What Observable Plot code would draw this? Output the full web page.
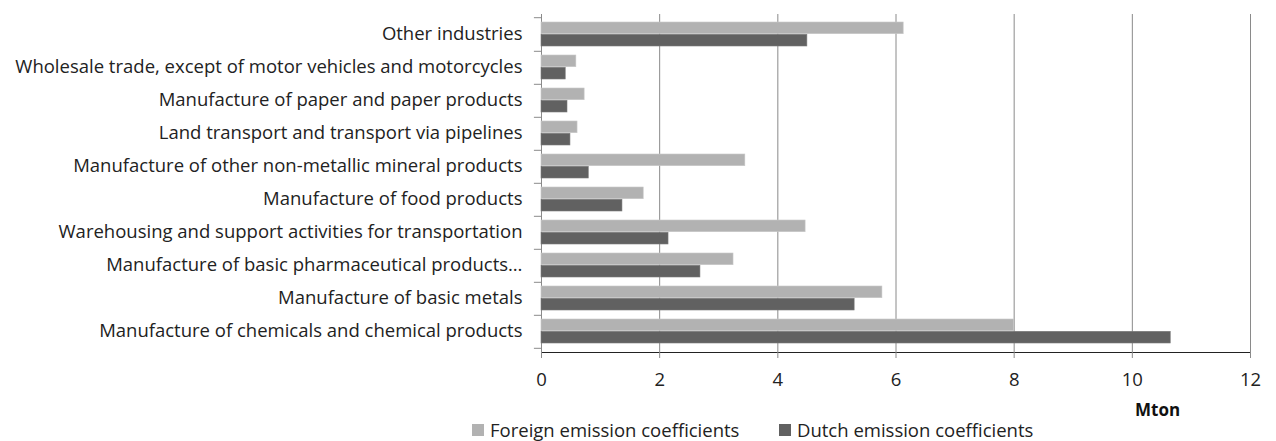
<!DOCTYPE html>
<html>
<head>
<meta charset="utf-8">
<script src="https://cdn.jsdelivr.net/npm/d3@7"></script>
<script src="https://cdn.jsdelivr.net/npm/@observablehq/plot@0.6"></script>
<style>
  body { margin: 0; background: #fff; font-family: "Open Sans", sans-serif; }
  #wrap { position: relative; width: 1276px; height: 441px; }
  #chart svg text { font-family: "Open Sans", sans-serif; font-size: 18.5px; fill: #222; }
  #legend { position: absolute; left: 0; top: 417px; width: 1276px; font-size: 18.5px; line-height: 26px; color: #222; }
  .item { position: absolute; top: 0; display: flex; align-items: center; white-space: nowrap; }
  .sw { width: 12px; height: 12px; margin-right: 6px; }
  #unit { position: absolute; left: 1135px; top: 398px; font-weight: bold; font-size: 17px; line-height: 24px; color: #111; }
</style>
</head>
<body>
<div id="wrap">
  <div id="chart"></div>
  <div id="unit">Mton</div>
  <div id="legend"></div>
</div>
<script>
const categories = [
  "Other industries",
  "Wholesale trade, except of motor vehicles and motorcycles",
  "Manufacture of paper and paper products",
  "Land transport and transport via pipelines",
  "Manufacture of other non-metallic mineral products",
  "Manufacture of food products",
  "Warehousing and support activities for transportation",
  "Manufacture of basic pharmaceutical products…",
  "Manufacture of basic metals",
  "Manufacture of chemicals and chemical products"
];
const foreign = [6.13, 0.59, 0.73, 0.61, 3.45, 1.73, 4.47, 3.25, 5.77, 8.0];
const dutch   = [4.50, 0.41, 0.44, 0.49, 0.80, 1.37, 2.15, 2.69, 5.30, 10.65];
const seriesNames = ["Foreign emission coefficients", "Dutch emission coefficients"];
const seriesColors = ["#b2b2b2", "#616161"];
const xTicks = [0, 2, 4, 6, 8, 10, 12];
const unitLabel = "Mton";

const foreignData = categories.map((c, i) => ({category: c, value: foreign[i]}));
const dutchData = categories.map((c, i) => ({category: c, value: dutch[i]}));

const plot = Plot.plot({
  width: 1276,
  height: 400,
  marginLeft: 541,
  marginRight: 26,
  marginTop: 14,
  marginBottom: 48,
  style: {fontSize: "18.5px", fontFamily: "'Open Sans', sans-serif", color: "#222", background: "#fff"},
  x: {domain: [0, 12], ticks: xTicks, tickSize: 6, tickPadding: 14, line: true, label: null},
  y: {domain: categories, paddingInner: 0.27, paddingOuter: 0.135, tickSize: 0, tickPadding: 19, label: null},
  marks: [
    Plot.ruleX(xTicks, {x: d => d, stroke: "#8a8a8a"}),
    Plot.barX(foreignData, {y: "category", x: "value", fill: seriesColors[0], insetBottom: 12.3, stroke: "#c8c8c8", strokeWidth: 0.6}),
    Plot.barX(dutchData, {y: "category", x: "value", fill: seriesColors[1], insetTop: 12.3, stroke: "#7a7a7a", strokeWidth: 0.6}),
    Plot.ruleY(categories, {y: d => d, x1: -0.12, x2: 0, dy: 16.8, stroke: "#8a8a8a"}),
    Plot.ruleY(categories.slice(0, 1), {y: d => d, x1: -0.12, x2: 0, dy: -16.8, stroke: "#8a8a8a"})
  ]
});
plot.querySelectorAll("[aria-label='x-axis tick'] path, [aria-label='x-axis'] path, [aria-label='x-axis'] line").forEach(p => p.setAttribute("stroke", "#8a8a8a"));
document.getElementById("chart").appendChild(plot);

const legend = document.getElementById("legend");
const lefts = [472, 779];
seriesNames.forEach((name, i) => {
  const it = document.createElement("div");
  it.className = "item";
  it.style.left = lefts[i] + "px";
  it.innerHTML = `<span class="sw" style="background:${seriesColors[i]}"></span><span>${name}</span>`;
  legend.appendChild(it);
});
document.getElementById("unit").textContent = unitLabel;
</script>
</body>
</html>
